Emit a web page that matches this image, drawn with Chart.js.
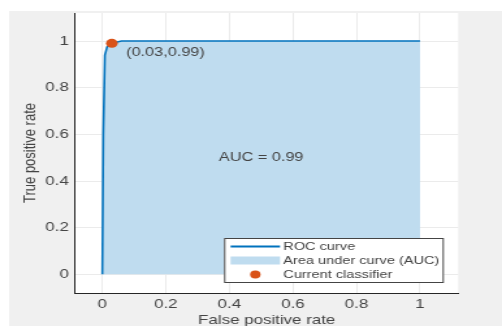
<!DOCTYPE html>
<html>
<head>
<meta charset="utf-8">
<script src="https://cdn.jsdelivr.net/npm/chart.js@4/dist/chart.umd.min.js"></script>
<style>
  html, body { margin: 0; padding: 0; background: #ffffff; overflow: hidden; }
  #wrap { width: 386px; height: 326px; transform: scaleX(1.30052); transform-origin: 0 0; }
  canvas { display: block; }
</style>
</head>
<body>
<div id="wrap"><canvas id="c" width="386" height="326"></canvas></div>
<script>
// ---- data ----
const fpr = [0, 0.003, 0.008, 0.015, 0.03, 0.06, 1];
const tpr = [0, 0.6, 0.94, 0.975, 0.99, 1, 1];
const classifierFpr = [0.03];
const classifierTpr = [0.99];
const classifierLabel = '(0.03,0.99)';
const aucLabel = 'AUC = 0.99';
const aucLabelPos = [0.5, 0.5];
const seriesNames = ['ROC curve', 'Area under curve (AUC)', 'Current classifier'];
const xTickValues = [0, 0.2, 0.4, 0.6, 0.8, 1];
const xTickLabels = ['0', '0.2', '0.4', '0.6', '0.8', '1'];
const yTickValues = [0, 0.2, 0.4, 0.6, 0.8, 1];
const yTickLabels = ['0', '0.2', '0.4', '0.6', '0.8', '1'];
const xTitle = 'False positive rate';
const yTitle = 'True positive rate';

// ---- styles ----
const FONT = "'Liberation Sans', Arial, Helvetica, sans-serif";
const TEXT = '#444444';
const LINE_BLUE = '#0072BD';
const FILL_BLUE = '#BFDCEF';
const DOT = '#D95319';

const rocPoints = fpr.map((x, i) => ({ x: x, y: tpr[i] }));
const dotPoints = classifierFpr.map((x, i) => ({ x: x, y: classifierTpr[i] }));

const bgPlugin = {
  id: 'bg',
  beforeDraw(chart) {
    const { ctx, chartArea: a, width, height } = chart;
    ctx.save();
    ctx.fillStyle = '#ffffff';
    ctx.fillRect(0, 0, width, height);
    ctx.fillStyle = '#f0f0f0';
    ctx.fillRect(7, 11, width - 7, height - 11);
    ctx.fillStyle = '#ffffff';
    ctx.fillRect(a.left, a.top, a.right - a.left, a.bottom - a.top);
    ctx.restore();
  }
};

const textPlugin = {
  id: 'texts',
  afterDatasetsDraw(chart) {
    const { ctx, scales: { x, y } } = chart;
    ctx.save();
    ctx.fillStyle = TEXT;
    ctx.font = '12.5px ' + FONT;
    ctx.textBaseline = 'middle';
    ctx.textAlign = 'center';
    ctx.fillText(aucLabel, x.getPixelForValue(aucLabelPos[0]), y.getPixelForValue(aucLabelPos[1]));
    ctx.textAlign = 'left';
    const px = x.getPixelForValue(classifierFpr[0]);
    const py = y.getPixelForValue(classifierTpr[0]);
    ctx.fillText(classifierLabel, px + 11, py + 9);
    ctx.restore();
  }
};

const legendPlugin = {
  id: 'boxLegend',
  afterDraw(chart) {
    const { ctx, chartArea: a } = chart;
    const right = a.right - 11, bottom = a.bottom - 10;
    const w = 169, h = 45;
    const left = right - w, top = bottom - h;
    ctx.save();
    ctx.fillStyle = '#ffffff';
    ctx.fillRect(left, top, w, h);
    ctx.strokeStyle = '#444444';
    ctx.lineWidth = 1;
    ctx.strokeRect(left + 0.5, top + 0.5, w - 1, h - 1);
    const sx0 = left + 5, sx1 = left + 43, tx = left + 45.5;
    const rows = [top + 8.5, top + 22.5, top + 36.5];
    ctx.strokeStyle = LINE_BLUE; ctx.lineWidth = 2;
    ctx.beginPath(); ctx.moveTo(sx0, rows[0]); ctx.lineTo(sx1, rows[0]); ctx.stroke();
    ctx.fillStyle = FILL_BLUE;
    ctx.fillRect(sx0, rows[1] - 4, sx1 - sx0, 8);
    ctx.fillStyle = DOT;
    ctx.beginPath(); ctx.arc((sx0 + sx1) / 2, rows[2], 4, 0, Math.PI * 2); ctx.fill();
    const labels = [chart.data.datasets[1].label, chart.data.datasets[0].label, chart.data.datasets[2].label];
    ctx.fillStyle = TEXT;
    ctx.font = '11.2px ' + FONT;
    ctx.textBaseline = 'middle';
    ctx.textAlign = 'left';
    labels.forEach((t, i) => ctx.fillText(t, tx, rows[i] + 0.5));
    ctx.restore();
  }
};

new Chart(document.getElementById('c'), {
  type: 'scatter',
  data: {
    datasets: [
      {
        type: 'line',
        label: seriesNames[1],
        data: rocPoints,
        showLine: true,
        borderWidth: 0,
        borderColor: 'rgba(0,0,0,0)',
        backgroundColor: FILL_BLUE,
        fill: 'origin',
        pointRadius: 0,
        tension: 0,
        order: 3
      },
      {
        type: 'line',
        label: seriesNames[0],
        data: rocPoints,
        showLine: true,
        borderWidth: 1.6,
        borderColor: LINE_BLUE,
        backgroundColor: LINE_BLUE,
        fill: false,
        pointRadius: 0,
        tension: 0,
        order: 2
      },
      {
        type: 'scatter',
        label: seriesNames[2],
        data: dotPoints,
        pointRadius: 4.5,
        pointBackgroundColor: DOT,
        pointBorderColor: DOT,
        pointBorderWidth: 0,
        order: 1
      }
    ]
  },
  options: {
    responsive: false,
    animation: false,
    devicePixelRatio: 1,
    layout: { padding: { left: 0, top: 13, right: 33.7, bottom: 0 } },
    plugins: { legend: { display: false }, tooltip: { enabled: false } },
    scales: {
      x: {
        type: 'linear',
        min: -0.085,
        max: 1.12,
        afterBuildTicks: (s) => { s.ticks = xTickValues.map(v => ({ value: v })); },
        afterFit: (s) => { s.height = 33; },
        ticks: {
          autoSkip: false,
          maxRotation: 0,
          padding: 4,
          color: TEXT,
          font: { family: FONT, size: 13 },
          callback: (v, i) => xTickLabels[i]
        },
        grid: { color: '#ebebeb', lineWidth: 1, drawTicks: false },
        border: { display: true, color: '#262626', width: 1 },
        title: {
          display: true,
          text: xTitle,
          color: TEXT,
          font: { family: FONT, size: 13 },
          padding: { top: 0, bottom: -2 }
        }
      },
      y: {
        type: 'linear',
        min: -0.08,
        max: 1.12,
        afterBuildTicks: (s) => { s.ticks = yTickValues.map(v => ({ value: v })); },
        afterFit: (s) => { s.width = 57.9; },
        ticks: {
          autoSkip: false,
          padding: 5,
          color: TEXT,
          font: { family: FONT, size: 13 },
          callback: (v, i) => yTickLabels[i]
        },
        grid: { color: '#ebebeb', lineWidth: 1, drawTicks: false },
        border: { display: true, color: '#262626', width: 1 },
        title: {
          display: true,
          text: yTitle,
          color: TEXT,
          font: { family: FONT, size: 13 },
          padding: { top: 16, bottom: 0 }
        }
      }
    }
  },
  plugins: [bgPlugin, textPlugin, legendPlugin]
});
</script>
</body>
</html>
